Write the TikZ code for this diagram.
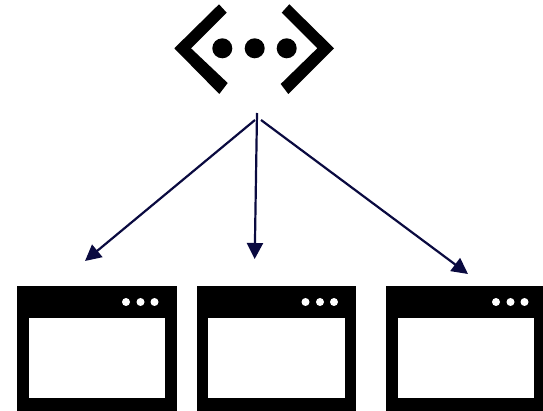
\documentclass[tikz,border=0pt]{standalone}
\usetikzlibrary{arrows.meta}
\definecolor{navy}{HTML}{0A0A40}
\tikzset{
  link/.style={draw=navy,line width=2.2pt,-{Triangle[length=16pt,width=16pt]},shorten >=0pt},
  ink/.style={fill=black,draw=none},
  pane/.style={fill=white,draw=none},
  pip/.style={fill=white,draw=none},
  bigdot/.style={fill=black,draw=none}
}
\newcommand{\appwindow}[3]{% left, right, dot origin
  \fill[black] (#1,286) rectangle (#2,410.5);
  \fill[white] (#1+11.8,318) rectangle (#1+148,398);
  \foreach \d in {0,14.5,28.5} \fill[white] (#3+\d,302) circle (4);
}
\begin{document}
\begin{tikzpicture}[x=1pt,y=-1pt]
\useasboundingbox (0,0) rectangle (543,411);
% hub icon
\fill[ink] (174.3,48.3) -- (219,4.3) -- (226.7,12.7) -- (191,48.3) -- (227.7,83) -- (219.3,94) -- cycle;
\fill[ink] (334,48.3) -- (289.3,4.3) -- (281.7,12.7) -- (317.3,48.3) -- (280.7,84) -- (288.3,94) -- cycle;
\foreach \x in {222.3,254.7,286.7} \fill[bigdot] (\x,48.3) circle (10);
% windows
\appwindow{17.3}{177}{126}
\appwindow{196.5}{356.3}{305.5}
\appwindow{386.4}{543}{496}
% connectors
\coordinate (hubL) at (255,120);
\coordinate (hubM) at (257,113);
\coordinate (hubR) at (261,120);
\coordinate (winL) at (85,261);
\coordinate (winM) at (254.7,259);
\coordinate (winR) at (468,274);
\draw[link] (hubL) -- (winL);
\draw[link] (hubM) -- (winM);
\draw[link] (hubR) -- (winR);
\end{tikzpicture}
\end{document}
